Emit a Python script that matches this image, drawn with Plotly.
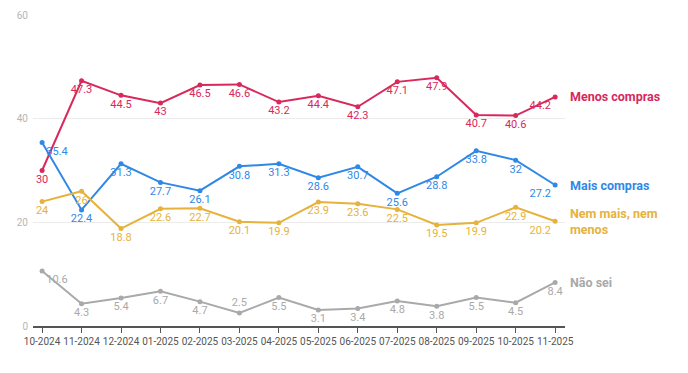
import plotly.graph_objects as go

months = ["10-2024", "11-2024", "12-2024", "01-2025", "02-2025", "03-2025", "04-2025",
          "05-2025", "06-2025", "07-2025", "08-2025", "09-2025", "10-2025", "11-2025"]
menos = [30, 47.3, 44.5, 43, 46.5, 46.6, 43.2, 44.4, 42.3, 47.1, 47.9, 40.7, 40.6, 44.2]
mais = [35.4, 22.4, 31.3, 27.7, 26.1, 30.8, 31.3, 28.6, 30.7, 25.6, 28.8, 33.8, 32, 27.2]
nem = [24, 26, 18.8, 22.6, 22.7, 20.1, 19.9, 23.9, 23.6, 22.5, 19.5, 19.9, 22.9, 20.2]
nao = [10.6, 4.3, 5.4, 6.7, 4.7, 2.5, 5.5, 3.1, 3.4, 4.8, 3.8, 5.5, 4.5, 8.4]
y_ticks = [0, 20, 40, 60]

series = [
    ("Menos compras", menos, "#d8285c"),
    ("Mais compras", mais, "#3088e6"),
    ("Nem mais, nem<br>menos", nem, "#e6b23c"),
    ("Não sei", nao, "#a9a9a9"),
]
first_pos = {"Menos compras": "bottom center", "Mais compras": "bottom right",
             "Nem mais, nem<br>menos": "bottom center", "Não sei": "bottom right"}
last_pos = {"Menos compras": "bottom left", "Mais compras": "bottom left",
            "Nem mais, nem<br>menos": "bottom left", "Não sei": "bottom center"}

FONT = "Roboto"
fig = go.Figure()
xs = list(range(len(months)))
for name, vals, col in series:
    pos = ["bottom center"] * len(vals)
    if name == "Não sei":
        pos[5] = "top center"
    pos[0] = first_pos[name]
    pos[-1] = last_pos[name]
    fig.add_trace(go.Scatter(
        x=xs, y=vals, mode="lines+markers+text",
        line=dict(color=col, width=2), marker=dict(color=col, size=5),
        text=[f"{v:g}" for v in vals], textposition=pos,
        textfont=dict(color=col, size=11, family=FONT),
        cliponaxis=False, showlegend=False, hoverinfo="skip"))
    fig.add_annotation(x=xs[-1], y=vals[-1], text=f"<b>{name}</b>", showarrow=False,
                       xanchor="left", yanchor="middle", xshift=13, align="left",
                       font=dict(color=col, size=12.5, family=FONT))

fig.update_layout(
    width=688, height=373, margin=dict(l=25, r=131, t=7, b=55),
    paper_bgcolor="white", plot_bgcolor="white",
    font=dict(family=FONT),
    xaxis=dict(range=[-0.23, 13.25], tickmode="array", tickvals=xs, ticktext=months,
               tickangle=0, automargin=False,
               showgrid=False, showline=True, linecolor="#555", linewidth=1.5,
               ticks="outside", ticklen=5, tickcolor="#555",
               tickfont=dict(size=10, color="#555", family=FONT), zeroline=False),
    yaxis=dict(range=[0, 60], tickvals=y_ticks, showgrid=True, gridcolor="#ececec",
               automargin=False,
               tickfont=dict(size=10, color="#b5b5b5", family=FONT), zeroline=False,
               ticklabelstandoff=4),
)
fig.write_html("out.html")
